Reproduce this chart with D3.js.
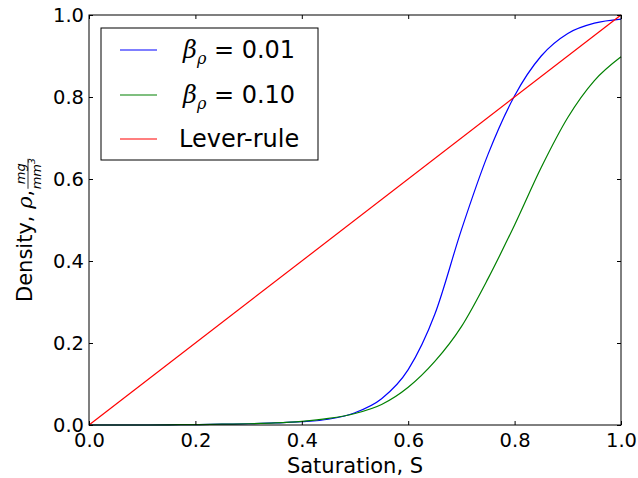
<!DOCTYPE html>
<html>
<head>
<meta charset="utf-8">
<script src="https://cdn.jsdelivr.net/npm/d3@7"></script>
<style>
  body { margin: 0; background: #fff; }
  text { font-family: "DejaVu Sans", sans-serif; }
</style>
</head>
<body>
<div id="chart"></div>
<script>
// saturation grid and the two density curves
var sat = [0, 0.05, 0.1, 0.15, 0.2, 0.25, 0.3, 0.35, 0.4, 0.45, 0.5, 0.55, 0.6, 0.65, 0.7, 0.75, 0.8, 0.85, 0.9, 0.95, 1.0];
var beta001 = [0, 0, 0, 0.0005, 0.001, 0.002, 0.003, 0.005, 0.008, 0.014, 0.03, 0.064, 0.135, 0.27, 0.476, 0.66, 0.803, 0.90, 0.955, 0.98, 0.99];
var beta010 = [0, 0, 0, 0.0005, 0.001, 0.002, 0.003, 0.005, 0.009, 0.016, 0.028, 0.05, 0.092, 0.155, 0.24, 0.357, 0.488, 0.628, 0.75, 0.84, 0.898];
var leverS = [0, 1];
var leverRho = [0, 1];
var ticks = [0, 0.2, 0.4, 0.6, 0.8, 1.0];

var series = [
    { name: "0.01", xs: sat, ys: beta001, color: "#0000ff" },
    { name: "0.10", xs: sat, ys: beta010, color: "#008000" },
    { name: "Lever-rule", xs: leverS, ys: leverRho, color: "#ff0000" }
];

var W = 638, H = 478;
var margin = { top: 15, right: 17, bottom: 53, left: 89 },
    width = W - margin.left - margin.right,
    height = H - margin.top - margin.bottom;

var svg = d3.select("#chart")
    .append("svg")
    .attr("width", W)
    .attr("height", H)
    .append("g")
    .attr("transform", "translate(" + margin.left + "," + margin.top + ")");

var x = d3.scaleLinear().domain([0, 1]).range([0, width]);
var y = d3.scaleLinear().domain([0, 1]).range([height, 0]);

// curves
var line = d3.line()
    .x(d => x(d[0]))
    .y(d => y(d[1]))
    .curve(d3.curveMonotoneX);

series.forEach(s => {
    svg.append("path")
        .datum(d3.zip(s.xs, s.ys))
        .attr("fill", "none")
        .attr("stroke", s.color)
        .attr("stroke-width", 1.2)
        .attr("d", line);
});

// axes, ticks pointing inward on all four sides
var fmt = d3.format(".1f");
var tk = 4;
svg.append("g")
    .attr("transform", "translate(0," + height + ")")
    .call(d3.axisBottom(x).tickValues(ticks).tickFormat(fmt).tickSizeInner(-tk).tickSizeOuter(0).tickPadding(8))
    .call(g => g.selectAll("text").attr("font-size", 19.5).attr("font-family", "DejaVu Sans").attr("fill", "#000"));
svg.append("g")
    .call(d3.axisTop(x).tickValues(ticks).tickFormat("").tickSizeInner(-tk).tickSizeOuter(0));
svg.append("g")
    .call(d3.axisLeft(y).tickValues(ticks).tickFormat(fmt).tickSizeInner(-tk).tickSizeOuter(0).tickPadding(5))
    .call(g => g.selectAll("text").attr("font-size", 19.5).attr("font-family", "DejaVu Sans").attr("fill", "#000"));
svg.append("g")
    .attr("transform", "translate(" + width + ",0)")
    .call(d3.axisRight(y).tickValues(ticks).tickFormat("").tickSizeInner(-tk).tickSizeOuter(0));
svg.selectAll(".domain").remove();

svg.append("rect")
    .attr("width", width)
    .attr("height", height)
    .attr("fill", "none")
    .attr("stroke", "#000")
    .attr("stroke-width", 1);

// x label
svg.append("text")
    .attr("x", width / 2)
    .attr("y", height + 48)
    .attr("text-anchor", "middle")
    .attr("font-size", 21)
    .text("Saturation, S");

// y label with the mg / mm^3 fraction
var yl = d3.select("svg").append("g")
    .attr("transform", "translate(32,0) rotate(-90)");
var yt = yl.append("text")
    .attr("x", -302)
    .attr("y", 0)
    .attr("font-size", 21);
yt.append("tspan").text("Density, ");
yt.append("tspan").attr("font-family", "DejaVu Serif").attr("font-style", "italic").text("ρ");
yt.append("tspan").text(",");
var fx = -302 + yt.node().getComputedTextLength() + 16;
yl.append("text")
    .attr("x", fx).attr("y", -7)
    .attr("text-anchor", "middle")
    .attr("font-size", 13)
    .attr("font-family", "DejaVu Serif").attr("font-style", "italic")
    .text("mg");
yl.append("line")
    .attr("x1", fx - 15).attr("x2", fx + 15)
    .attr("y1", -4).attr("y2", -4)
    .attr("stroke", "#000").attr("stroke-width", 0.8);
var den = yl.append("text")
    .attr("x", fx).attr("y", 9)
    .attr("text-anchor", "middle")
    .attr("font-size", 13)
    .attr("font-family", "DejaVu Serif").attr("font-style", "italic");
den.append("tspan").text("mm");
den.append("tspan").attr("font-size", 9).attr("dy", -6).text("3");

// legend
var lg = d3.select("svg").append("g");
lg.append("rect")
    .attr("x", 101).attr("y", 28)
    .attr("width", 217).attr("height", 132)
    .attr("fill", "#fff")
    .attr("stroke", "#000")
    .attr("stroke-width", 1);
var rowY = [50, 95, 139];
series.forEach((s, i) => {
    lg.append("line")
        .attr("x1", 120).attr("x2", 157)
        .attr("y1", rowY[i]).attr("y2", rowY[i])
        .attr("stroke", s.color)
        .attr("stroke-width", 1.2);
    var t = lg.append("text")
        .attr("x", i < 2 ? 183 : 179)
        .attr("y", rowY[i] + 8)
        .attr("font-size", 24);
    if (i < 2) {
        t.append("tspan").attr("font-family", "DejaVu Serif").attr("font-style", "italic").text("β");
        t.append("tspan").attr("font-family", "DejaVu Serif").attr("font-style", "italic")
            .attr("font-size", 16).attr("dy", 6).text("ρ");
        t.append("tspan").attr("dy", -6).text(" = " + s.name);
    } else {
        t.text(s.name);
    }
});
</script>
</body>
</html>
